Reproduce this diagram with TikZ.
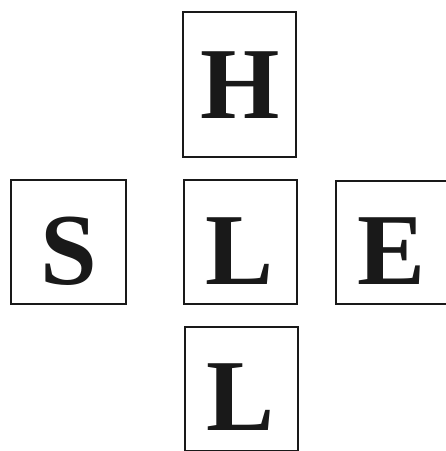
\documentclass[tikz,border=0pt]{standalone}
\usepackage{fontspec}
\newfontfamily\boldserif{Liberation Serif Bold}
\begin{document}
\begin{tikzpicture}[x=1pt,y=1pt,
  box/.style={draw=black!90, line width=2.5pt, inner sep=0pt},
  letter/.style={anchor=base, inner sep=0pt, text depth=0pt, font=\boldserif\fontsize{102}{108}\selectfont, text=black!90}]
\useasboundingbox (0,0) rectangle (446,451);
\node[box, minimum width=113pt, minimum height=145pt] (hbox) at (239.5,366.5) {};
\node[box, minimum width=115pt, minimum height=124pt] (sbox) at (68.5,209) {};
\node[box, minimum width=113pt, minimum height=124pt] (lbox) at (240.5,209) {};
\node[box, minimum width=115pt, minimum height=123pt] (ebox) at (393.5,208.5) {};
\node[box, minimum width=113pt, minimum height=124pt] (bbox) at (241.5,62) {};
\node[letter] (h) at (240,332) {H};
\node[letter] (s) at (69,166) {S};
\node[letter] (l) at (240,166) {L};
\node[letter] (e) at (392,166) {E};
\node[letter] (b) at (241,20) {L};
\end{tikzpicture}
\end{document}
